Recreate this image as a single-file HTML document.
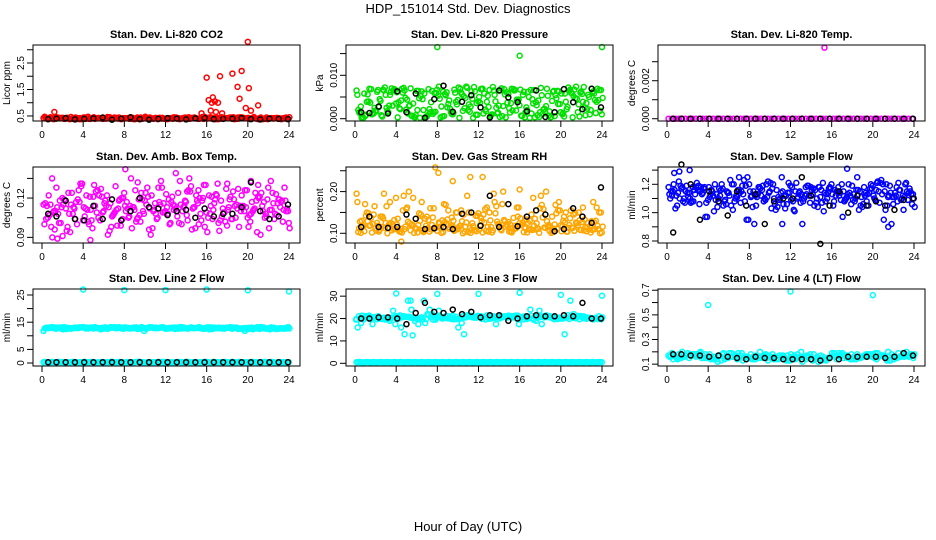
<!DOCTYPE html>
<html><head><meta charset="utf-8"><style>
body{margin:0;background:#fff;}
svg{display:block;font-family:"Liberation Sans",Arial,sans-serif;}
</style></head><body>
<svg id="c" width="936" height="540" xmlns="http://www.w3.org/2000/svg">
<text x="468" y="13" text-anchor="middle" font-size="13">HDP_151014  Std. Dev. Diagnostics</text>
<text x="468" y="531" text-anchor="middle" font-size="13">Hour of Day (UTC)</text>
</svg>
<script>
const xTicks=[0,4,8,12,16,20,24];
const blackT=[0.6,1.4,2.3,3.2,4.1,5.0,5.9,6.8,7.7,8.6,9.5,10.4,11.3,12.2,13.1,14.0,14.9,15.8,16.7,17.6,18.5,19.4,20.3,21.2,22.1,23.0,23.9];

const co2Red=[0.42,0.40,0.45,0.38,0.44,0.41,0.39,0.43,0.46,0.40,0.42,0.38,0.44,0.47,0.41,0.39,0.43,0.40,0.42,0.45,0.38,0.41,0.44,0.40,0.42,0.39,0.43,0.41,0.38,0.40,0.42,0.44,0.39,0.41,0.43,0.40,0.38,0.42,0.45,0.41,0.39,0.43,0.40,0.42,0.44,0.39,0.41,0.46,0.43,0.40,0.42,0.38,0.45,0.41,0.43,0.39,0.42,0.40,0.44,0.41,0.39,0.43,0.40,0.42,0.38,0.44,0.41,0.40,0.43,0.39,0.42,0.40];
const co2OutT=[1.2,16.0,16.2,16.5,16.6,16.8,17.1,17.3,16.4,16.9,18.5,19.0,19.2,19.4,19.8,20.0,20.1,20.3,21.0,15.5,17.5];
const co2OutV=[0.65,1.95,1.1,1.0,1.2,1.05,1.0,2.0,0.7,0.65,2.1,1.6,1.15,2.2,0.8,3.3,1.55,0.7,0.9,0.6,0.6];
const co2Black=[0.38,0.40,0.42,0.37,0.39,0.41,0.44,0.36,0.40,0.45,0.38,0.36,0.39,0.42,0.40,0.37,0.41,0.43,0.38,0.39,0.40,0.42,0.38,0.37,0.40,0.39,0.38];

const presGreen=[6.5,1.5,0.2,5.8,3.9,6.9,1.0,2.5,6.2,4.5,0.5,7.2,1.8,5.5,3.0,6.6,0.3,2.2,6.0,4.8,1.2,7.0,3.5,0.8,6.4,5.2,2.0,0.4,6.8,3.8,1.5,5.9,7.4,2.8,0.6,6.1,4.2,1.1,6.7,3.3,0.2,5.6,2.4,7.1,1.6,4.6,6.3,0.9,3.7,6.9,2.1,5.3,0.5,7.3,4.0,1.4,6.5,2.9,0.3,5.7,3.6,6.8,1.9,4.4,0.7,6.2,2.6,5.0,1.2,6.6,3.1,0.4,5.4,2.3,6.9,1.7,4.1,0.6,6.4,3.4,1.0,5.8,2.7,6.7,0.3,4.7,1.5,6.0,3.9,0.8,5.5,2.0,6.3,1.3,4.3,6.6];
const presOutT=[8,16,24];
const presOutV=[16.5,14.5,16.5];
const presBlack=[1.5,1.3,2.8,1.2,6.3,1.5,5.8,0.2,4.5,7.6,1.6,3.9,5.4,2.6,0.3,6.5,4.9,3.8,1.7,6.5,0.4,1.5,6.8,3.8,2.2,6.9,2.6];

const tempMag=[0,0,0,0,0,0,0,0,0,0,0,0,0,0,0,0,0,0,0,0,0,0,0,0,0,0,0,0,0,0,0,0,0,0,0,0,0,0,0,0,0,0,0,0,0,0,0,0,0,0,0,0,0,0,0,0,0,0,0,0,0,0,0,0,0,0,0,0,0,0,0,0];
const tempOutT=[15.3];
const tempOutV=[0.00374];
const tempBlack=[0,0,0,0,0,0,0,0,0,0,0,0,0,0,0,0,0,0,0,0,0,0,0,0,0,0,0];

const ambMag=[115,104,122,98,110,128,101,113,119,95,108,124,112,100,117,131,106,111,121,97,114,126,103,109,118,92,116,107,129,112,99,120,110,105,135,113,102,119,124,108,115,96,122,111,104,117,128,109,113,100,121,114,106,133,110,118,103,125,112,97,116,108,120,130,105,114,111,123,101,118,109,127,113,104,119,115,98,122,110,126,107,117,112,94,121,114,105,119,111,124,108,116,113,102,118,110];
const ambOutT=[1.0,1.5,2.0,8.1,9.3,13.0,15.2,18.0,20.3,21.0,14.1,4.7];
const ambOutV=[90,89,91,142,132,139,126,131,133,130,125,88];
const ambBlack=[108,106,118,104,103,114,104,119,103,110,120,113,112,107,110,111,105,112,106,108,108,113,132,110,104,106,115];

const rhOrange=[195,112,130,105,150,118,102,165,125,108,140,113,100,175,122,110,135,104,155,116,128,107,185,112,120,145,103,118,132,109,160,114,126,101,170,121,111,138,106,150,117,129,104,190,113,124,108,142,119,102,158,115,131,107,148,122,110,200,116,127,105,137,112,162,120,103,133,109,145,118,124,101,168,114,129,106,140,121,111,155,117,126,104,136,113,148,119,108,162,115,125,102,175,130,110,150];
const rhOutT=[7.8,8.1,9.5,11.2,12.4,4.5,16.0];
const rhOutV=[258,245,225,235,235,80,205];
const rhBlack=[115,140,115,113,115,145,135,110,112,115,110,147,150,118,190,115,170,117,140,155,145,105,110,160,140,125,210];

const sfBlue=[1.18,1.15,1.20,1.12,1.22,1.17,1.10,1.19,1.14,1.08,1.16,1.21,1.06,1.13,1.18,0.97,1.11,1.15,1.20,1.04,1.12,1.17,1.09,1.14,1.23,1.02,1.10,1.16,1.07,1.13,1.19,0.95,1.11,1.15,1.05,1.18,1.12,1.08,1.20,1.14,1.03,1.10,1.16,1.09,1.25,1.12,1.06,1.14,1.18,1.01,1.10,1.15,0.92,1.12,1.19,1.07,1.13,1.16,1.04,1.11,1.21,1.08,1.14,1.17,1.05,1.12,1.18,1.09,1.15,1.10,1.20,1.06,1.13,1.16,1.02,1.11,1.18,1.08,1.14,1.17,1.10,1.21,1.07,1.13,1.15,1.05,1.19,1.11,1.14,1.08,1.16,1.12,1.20,1.09,1.15,1.13];
const sfOutT=[0.7,2.2,7.0,17.5,11.2,21.5,1.2];
const sfOutV=[1.28,1.30,1.25,1.31,0.92,0.90,1.29];
const sfBlack=[0.86,1.34,1.20,0.95,1.15,1.08,0.98,1.15,1.05,1.13,0.92,1.08,1.10,1.10,1.25,1.12,0.78,1.05,1.15,1.00,1.12,1.05,1.08,1.05,1.02,1.09,1.10];

const l2Cyan=[11.8,12.9,13.1,12.8,13.0,12.7,13.2,12.9,12.6,13.0,12.8,13.1,12.9,12.7,13.0,13.2,12.8,12.9,13.1,12.7,13.0,12.8,13.2,12.9,13.0,12.7,12.9,13.1,12.8,13.0,12.6,13.2,12.9,12.8,13.0,13.1,12.7,12.9,13.0,12.8,13.2,12.9,12.7,13.1,12.8,13.0,12.9,12.6,13.1,12.8,12.9,13.0,12.7,12.8,13.0,12.6,12.9,12.7,12.5,12.8,12.6,12.4,12.7,12.5,12.8,12.6,12.4,12.7,12.5,12.8,12.6,12.7];
const l2CyanLow=[0.3,0.2,0.3,0.4,0.3,0.2,0.3,0.3,0.4,0.3,0.2,0.3,0.3,0.4,0.3,0.2,0.3,0.3,0.4,0.3,0.2,0.3,0.3,0.4,0.3,0.2,0.3,0.3,0.4,0.3,0.2,0.3,0.3,0.4,0.3,0.2,0.3,0.3,0.4,0.3,0.2,0.3,0.3,0.4,0.3,0.2,0.3,0.3];
const l2OutT=[4,8,12,16,20,24];
const l2OutV=[27,26.8,26.8,27,26.7,26.3];
const l2Black=[0.3,0.3,0.3,0.3,0.3,0.3,0.3,0.3,0.3,0.3,0.3,0.3,0.3,0.3,0.3,0.3,0.3,0.3,0.3,0.3,0.3,0.3,0.3,0.3,0.3,0.3,0.3];

const l3Cyan=[19.8,20.1,19.6,20.2,19.9,20.3,19.7,20.0,20.4,19.8,20.1,20.5,21.0,16.0,13.0,28.0,24.0,19.0,17.5,20.5,18.0,21.5,22.0,19.5,23.5,20.0,21.0,20.5,21.2,20.8,20.3,21.0,20.6,21.3,20.9,20.4,21.1,20.7,21.4,20.8,21.0,20.6,21.2,20.9,20.5,21.1,20.8,21.3,20.7,21.0,20.4,21.2,20.8,20.5,17.5,21.0,20.6,20.2,20.8,20.4,20.0,20.5,19.8,20.3,20.1,19.7,20.2,19.9,20.3,19.6,20.0,19.8];
const l3CyanLow=[0.5,0.4,0.6,0.5,0.4,0.5,0.6,0.5,0.4,0.5,0.6,0.5,0.4,0.5,0.6,0.5,0.4,0.5,0.6,0.5,0.4,0.5,0.6,0.5,0.4,0.5,0.6,0.5,0.4,0.5,0.6,0.5,0.4,0.5,0.6,0.5,0.4,0.5,0.6,0.5,0.4,0.5,0.6,0.5,0.4,0.5,0.6,0.5];
const l3OutT=[0.1,4.0,5.4,5.6,8.0,12.0,16.0,20.0,24.0];
const l3OutV=[19.5,31.2,28.0,12.5,31.0,31.0,31.5,30.6,30.2];
const l3Black=[20,20,20.5,20.5,20,17.5,22.5,27,23,22.5,24,22,23,20.5,21.5,21.5,19,20,21,21.5,21,21,21.5,21,27,20,20];

const l4Cyan=[0.17,0.19,0.16,0.18,0.20,0.17,0.15,0.18,0.16,0.19,0.17,0.15,0.18,0.16,0.14,0.17,0.19,0.15,0.16,0.18,0.14,0.17,0.15,0.16,0.18,0.14,0.16,0.15,0.17,0.13,0.15,0.16,0.14,0.17,0.15,0.13,0.16,0.14,0.15,0.12,0.14,0.16,0.13,0.15,0.14,0.16,0.13,0.15,0.17,0.14,0.16,0.15,0.17,0.14,0.16,0.18,0.15,0.17,0.16,0.18,0.15,0.19,0.17,0.16,0.20,0.18,0.16,0.19,0.17,0.18,0.16,0.17];
const l4OutT=[4,12,20];
const l4OutV=[0.58,0.69,0.66];
const l4Black=[0.18,0.18,0.17,0.17,0.16,0.17,0.16,0.15,0.14,0.16,0.15,0.15,0.14,0.14,0.14,0.14,0.13,0.15,0.14,0.16,0.16,0.16,0.16,0.15,0.16,0.19,0.17];

const NS='http://www.w3.org/2000/svg';
const svg=document.getElementById('c');
function mk(tag,attrs,parent){const e=document.createElementNS(NS,tag);for(const k in attrs)e.setAttribute(k,attrs[k]);(parent||svg).appendChild(e);return e;}
function even(n){const a=[];for(let i=0;i<n;i++)a.push(i*24/n+0.15);return a;}
function scale(arr,k){return arr.map(v=>v*k);}

const cols=[33,346,658],rows=[45,167,289];
const panels=[
 {title:'Stan. Dev. Li-820 CO2',ylab:'Licor ppm',c:0,r:0,ymin:0.31,ymax:3.18,ticks:[0.5,1,1.5,2,2.5,3],labs:['0.5','','1.5','','2.5',''],
  series:[[even(72),co2Red,'#ff0000',1],[blackT,co2Black,'#000'],[co2OutT,co2OutV,'#ff0000']]},
 {title:'Stan. Dev. Li-820 Pressure',ylab:'kPa',c:1,r:0,ymin:-0.00053,ymax:0.01698,ticks:[0,0.005,0.01,0.015],labs:['0.000','','0.010',''],
  series:[[even(96),scale(presGreen,0.001),'#00e000',1],[blackT,scale(presBlack,0.001),'#000'],[presOutT,scale(presOutV,0.001),'#00e000']]},
 {title:'Stan. Dev. Li-820 Temp.',ylab:'degrees C',c:2,r:0,ymin:-0.00012,ymax:0.00388,ticks:[0,0.001,0.002,0.003],labs:['0.000','','0.002',''],
  series:[[even(72),tempMag,'#ff00ff'],[blackT,tempBlack,'#000'],[tempOutT,tempOutV,'#ff00ff']]},
 {title:'Stan. Dev. Amb. Box Temp.',ylab:'degrees C',c:0,r:1,ymin:0.0857,ymax:0.1437,ticks:[0.09,0.105,0.12,0.135],labs:['0.09','','0.12',''],
  series:[[even(96),scale(ambMag,0.001),'#ff00ff',1],[ambOutT,scale(ambOutV,0.001),'#ff00ff'],[blackT,scale(ambBlack,0.001),'#000']]},
 {title:'Stan. Dev. Gas Stream RH',ylab:'percent',c:1,r:1,ymin:0.0767,ymax:0.259,ticks:[0.1,0.15,0.2,0.25],labs:['0.10','','0.20',''],
  series:[[even(96),scale(rhOrange,0.001),'#ffa500',1],[rhOutT,scale(rhOutV,0.001),'#ffa500'],[blackT,scale(rhBlack,0.001),'#000']]},
 {title:'Stan. Dev. Sample Flow',ylab:'ml/min',c:2,r:1,ymin:0.786,ymax:1.322,ticks:[0.8,0.9,1.0,1.1,1.2,1.3],labs:['0.8','','1.0','','1.2',''],
  series:[[even(96),sfBlue,'#0000ff',1],[sfOutT,sfOutV,'#0000ff'],[blackT,sfBlack,'#000']]},
 {title:'Stan. Dev. Line 2 Flow',ylab:'ml/min',c:0,r:2,ymin:-1.1,ymax:27.2,ticks:[0,5,10,15,20,25],labs:['0','5','','15','','25'],
  series:[[even(72),l2Cyan,'#00ffff',1],[even(48),l2CyanLow,'#00ffff',1],[blackT,l2Black,'#000'],[l2OutT,l2OutV,'#00ffff']]},
 {title:'Stan. Dev. Line 3 Flow',ylab:'ml/min',c:1,r:2,ymin:-1.2,ymax:33.2,ticks:[0,10,20,30],labs:['0','10','20','30'],
  series:[[even(72),l3Cyan,'#00ffff',1],[even(48),l3CyanLow,'#00ffff',1],[l3OutT,l3OutV,'#00ffff'],[blackT,l3Black,'#000']]},
 {title:'Stan. Dev. Line 4 (LT) Flow',ylab:'ml/min',c:2,r:2,ymin:0.085,ymax:0.71,ticks:[0.1,0.2,0.3,0.4,0.5,0.6,0.7],labs:['0.1','','0.3','','0.5','','0.7'],
  series:[[even(72),l4Cyan,'#00ffff',1],[blackT,l4Black,'#000'],[l4OutT,l4OutV,'#00ffff']]}
];

panels.forEach((p,pi)=>{
  const L=cols[p.c],T=rows[p.r],W=267,H=(p.r==2?77:76);
  const g=mk('g',{});
  
  
  const xs=t=>L+9+t*247/24;
  const ys=v=>T+H-(v-p.ymin)/(p.ymax-p.ymin)*H;
  const tt=mk('text',{x:L+W/2,y:T-7,'text-anchor':'middle','font-size':11,'font-weight':'bold'},g);
  tt.textContent=p.title;
  
  
  const yl=mk('text',{x:0,y:0,'text-anchor':'middle','font-size':10,transform:`translate(${L-23},${T+H/2}) rotate(-90)`},g);
  yl.textContent=p.ylab;
  
  
  xTicks.forEach(t=>{
    const x=xs(t);
    mk('line',{x1:x,x2:x,y1:T+H,y2:T+H+6,stroke:'#000','stroke-width':1},g);
    const lb=mk('text',{x:x,y:T+H+17,'text-anchor':'middle','font-size':10},g);
    lb.textContent=t;
    
    
  });
  p.ticks.forEach((v,i)=>{
    const y=ys(v);
    mk('line',{x1:L-6,x2:L,y1:y,y2:y,stroke:'#000','stroke-width':1},g);
    if(p.labs[i]){
      const lb=mk('text',{x:0,y:0,'text-anchor':'middle','font-size':10,transform:`translate(${L-9},${y}) rotate(-90)`},g);
      lb.textContent=p.labs[i];
      
      
    }
  });
  p.series.forEach(s=>{
    const [ts,vs,col,dense]=s;
    const n=vs.length;
    vs.forEach((v,i)=>{
      const c=mk('circle',{cx:xs(ts[i]),cy:ys(v),r:2.5,fill:'none',stroke:col,'stroke-width':1.5},g);
      
      
      if(dense){
        // second sampling pass between recorded times (replicate readings)
        const half=12/n;
        [1,2].forEach(k=>{
          const v2=vs[(i*7+k*13)%n];
          const c2=mk('circle',{cx:xs(ts[i]+half*k*0.66),cy:ys(v2),r:2.5,fill:'none',stroke:col,'stroke-width':1.5},g);
          
          
        });
      }
    });
  });
  const box=mk('rect',{x:L,y:T,width:W,height:H,fill:'none',stroke:'#000','stroke-width':1},g);
  
  
});
</script>
</body></html>
